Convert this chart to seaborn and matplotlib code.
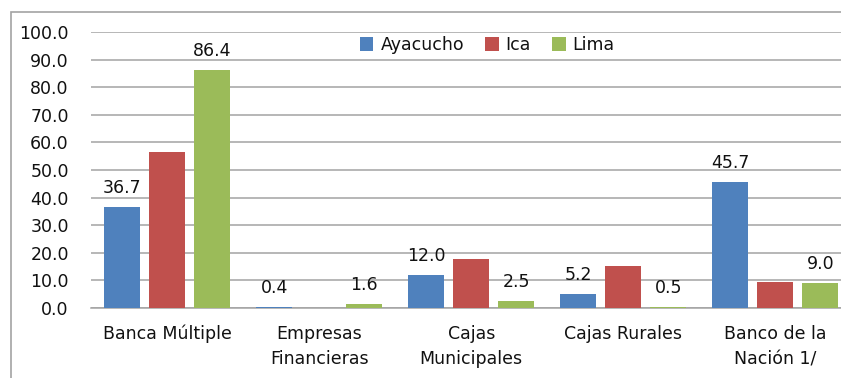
import matplotlib
matplotlib.use("Agg")
import matplotlib.pyplot as plt
import seaborn as sns
import pandas as pd
from matplotlib.patches import Rectangle

categories = ["Banca Múltiple", "Empresas\nFinancieras", "Cajas\nMunicipales",
              "Cajas Rurales", "Banco de la\nNación 1/"]
regions = ["Ayacucho", "Ica", "Lima"]
ayacucho = [36.7, 0.4, 12.0, 5.2, 45.7]
ica = [56.7, 0.0, 17.6, 15.2, 9.5]
lima = [86.4, 1.6, 2.5, 0.5, 9.0]
labeled = {"Ayacucho": True, "Ica": False, "Lima": True}
yticks = [0, 10, 20, 30, 40, 50, 60, 70, 80, 90, 100]

colors = ["#4F81BD", "#C0504D", "#9BBB59"]
grid_color = "#a3a3a3"
text_color = "#111111"
fs = 12.5

df = pd.DataFrame({
    "categoria": categories * 3,
    "region": [r for r in regions for _ in categories],
    "valor": ayacucho + ica + lima,
})

sns.set_theme(style="white")
plt.rcParams["font.family"] = ["DejaVu Sans"]

fig = plt.figure(figsize=(8.41, 3.78), dpi=100)
W, H = 841, 378
ax = fig.add_axes([91 / W, (H - 308) / H, 760.5 / W, 276 / H])

sns.barplot(data=df, x="categoria", y="valor", hue="region", order=categories,
            hue_order=regions, palette=colors, width=0.888, gap=0.2,
            ax=ax, saturation=1, errorbar=None, edgecolor="none")

for cont, reg in zip(ax.containers, regions):
    if labeled[reg]:
        ax.bar_label(cont, fmt="%.1f", padding=7, fontsize=fs, color=text_color)

ax.set_ylim(0, 100)
ax.set_yticks(yticks)
ax.set_yticklabels([f"{v:.1f}" for v in yticks])
ax.set_xlim(-0.5, 4.5)
ax.set_xlabel("")
ax.set_ylabel("")
ax.yaxis.grid(True, color=grid_color, linewidth=1.1)
ax.set_axisbelow(True)
for s in ["left", "right", "top"]:
    ax.spines[s].set_visible(False)
ax.spines["bottom"].set_color(grid_color)
ax.spines["bottom"].set_linewidth(1.1)
ax.spines["bottom"].set_zorder(0.6)
ax.tick_params(axis="y", length=0, pad=16, labelsize=fs, labelcolor=text_color)
ax.tick_params(axis="x", length=0, pad=12, labelsize=fs, labelcolor=text_color)
for lbl in ax.get_xticklabels():
    lbl.set_linespacing(1.55)

leg = ax.legend(loc="center", bbox_to_anchor=(0.521, 0.953), ncol=3, frameon=False,
                fontsize=fs, handlelength=0.8, handleheight=0.8,
                handletextpad=0.4, columnspacing=1.2, borderpad=0)
for t in leg.get_texts():
    t.set_color(text_color)

# outer chart-area border
fig.patches.append(Rectangle((10.5 / W, -0.1), 1.2, (H - 12.5) / H + 0.1,
                             transform=fig.transFigure, fill=False,
                             edgecolor=grid_color, linewidth=1.2))

fig.savefig("out.png", dpi=100)
